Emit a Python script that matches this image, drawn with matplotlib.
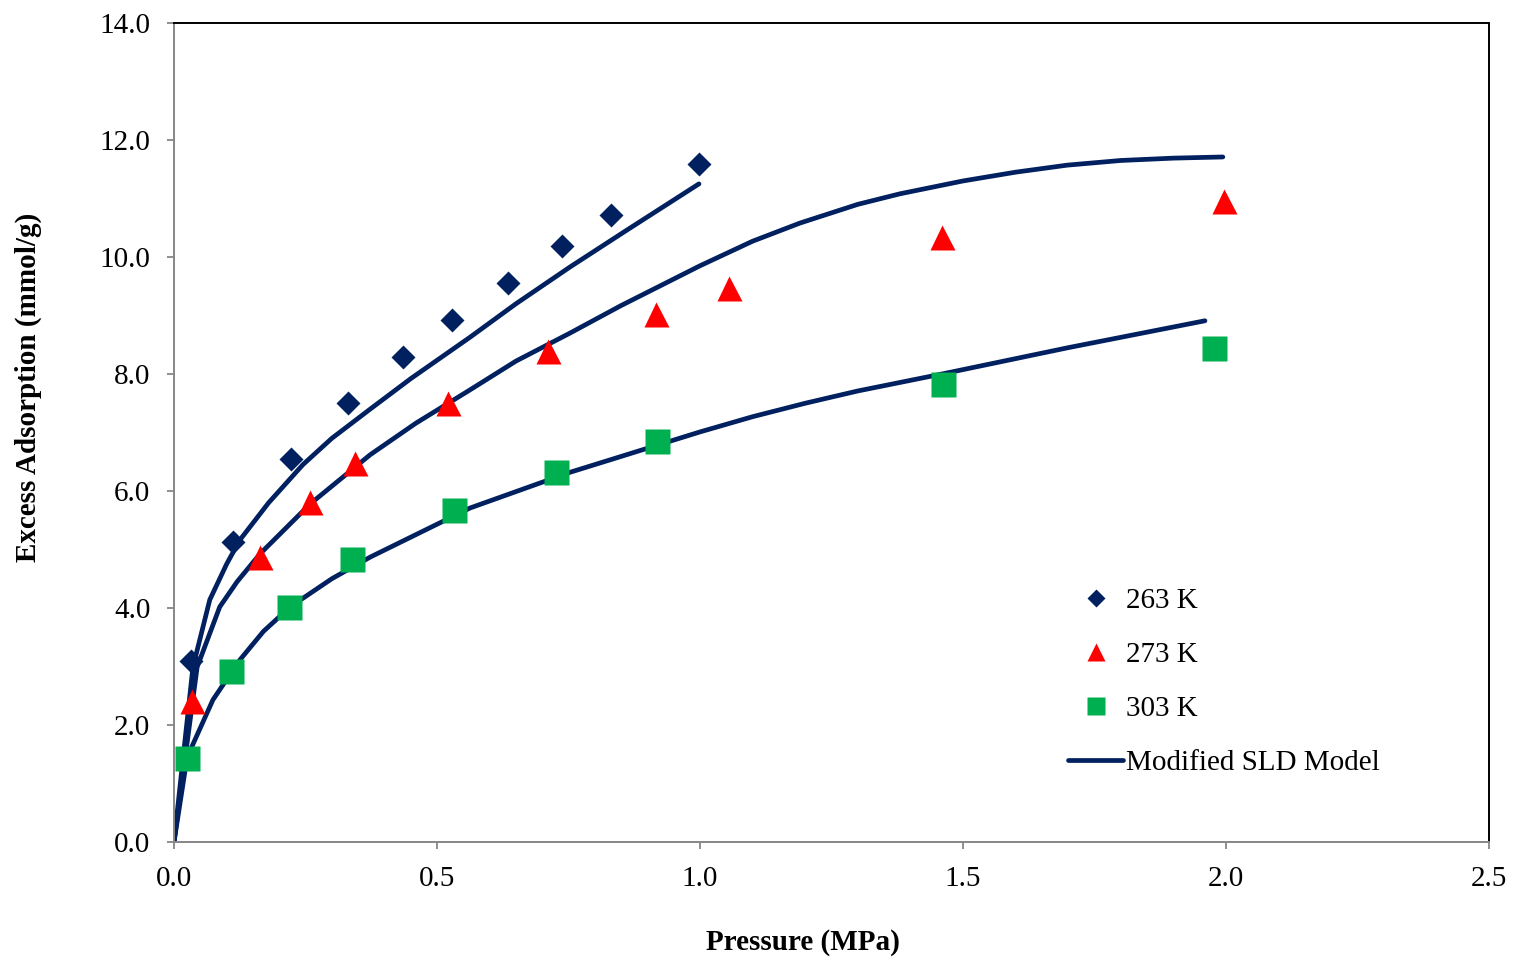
import matplotlib
matplotlib.use("Agg")
import matplotlib.pyplot as plt
from matplotlib.lines import Line2D

plt.rcParams['font.family'] = ['Liberation Serif', 'DejaVu Serif']

# measured excess adsorption (mmol/g) vs pressure (MPa)
p_263 = [0.032, 0.112, 0.222, 0.331, 0.435, 0.528, 0.635, 0.738, 0.831, 0.998]
n_263 = [3.09, 5.12, 6.54, 7.50, 8.29, 8.92, 9.56, 10.19, 10.72, 11.59]

p_273 = [0.034, 0.164, 0.259, 0.344, 0.521, 0.711, 0.916, 1.055, 1.460, 1.996]
n_273 = [2.41, 4.87, 5.81, 6.48, 7.50, 8.39, 9.03, 9.47, 10.34, 10.96]

p_303 = [0.025, 0.108, 0.219, 0.338, 0.532, 0.726, 0.918, 1.462, 1.977]
n_303 = [1.44, 2.92, 4.02, 4.84, 5.68, 6.32, 6.85, 7.83, 8.44]

# modified SLD model curves
mp_263 = [0.0, 0.036, 0.068, 0.1, 0.125, 0.18, 0.245, 0.3, 0.373, 0.45,
          0.563, 0.65, 0.753, 0.861, 0.998]
mn_263 = [0.0, 2.99, 4.14, 4.75, 5.16, 5.80, 6.45, 6.90, 7.40, 7.92,
          8.63, 9.20, 9.83, 10.46, 11.25]

mp_273 = [0.0, 0.044, 0.087, 0.12, 0.164, 0.259, 0.373, 0.46, 0.563, 0.65,
          0.753, 0.85, 1.0, 1.1, 1.19, 1.3, 1.38, 1.5, 1.6, 1.698, 1.8,
          1.9, 1.994]
mn_273 = [0.0, 2.99, 4.02, 4.45, 4.93, 5.78, 6.62, 7.16, 7.73, 8.22,
          8.70, 9.17, 9.85, 10.27, 10.58, 10.90, 11.08, 11.30, 11.45, 11.57, 11.65,
          11.69, 11.71]

mp_303 = [0.0, 0.025, 0.074, 0.125, 0.17, 0.221, 0.3, 0.373, 0.563, 0.753,
          1.0, 1.1, 1.2, 1.3, 1.46, 1.7, 1.96]
mn_303 = [0.0, 1.45, 2.43, 3.11, 3.60, 4.02, 4.50, 4.87, 5.71, 6.32,
          7.01, 7.27, 7.50, 7.71, 8.00, 8.45, 8.91]

navy = '#002060'
red = '#FF0000'
green = '#00B050'
grey = '#868686'
fs = 21

fig = plt.figure(figsize=(15.13, 9.59), dpi=100)
ax = fig.add_axes([174/1513, 1 - 842/959, (1489 - 174)/1513, (842 - 23)/959])

for mp, mn in [(mp_263, mn_263), (mp_273, mn_273), (mp_303, mn_303)]:
    ax.plot(mp, mn, color=navy, lw=3.4, solid_capstyle='round',
            solid_joinstyle='round', zorder=2)

ax.plot(p_263, n_263, 'D', color=navy, ms=12.2, mec='none', zorder=3)
ax.plot(p_273, n_273, '^', color=red, ms=18, mec='none', zorder=3)
ax.plot(p_303, n_303, 's', color=green, ms=18, mec='none', zorder=3)

ax.set_xlim(0, 2.5)
ax.set_ylim(0, 14)
ax.set_xticks([0, 0.5, 1.0, 1.5, 2.0, 2.5])
ax.set_yticks([0, 2, 4, 6, 8, 10, 12, 14])
ax.xaxis.set_major_formatter('{x:.1f}')
ax.yaxis.set_major_formatter('{x:.1f}')
ax.tick_params(direction='out', length=5, width=1.3, color=grey,
               labelsize=fs, pad=12)

ax.spines['left'].set_color(grey)
ax.spines['bottom'].set_color(grey)
ax.spines['top'].set_color('black')
ax.spines['right'].set_color('black')
for s in ax.spines.values():
    s.set_linewidth(1.4)

fig.text(803/1513, 1 - 942/959, 'Pressure (MPa)', ha='center', va='center',
         fontsize=fs, fontweight='bold')
fig.text(28/1513, 1 - 387/959, 'Excess Adsorption (mmol/g)', ha='center',
         va='center', rotation=90, fontsize=fs, fontweight='bold')

handles = [
    Line2D([], [], ls='none', marker='D', color=navy, ms=9.5, mec='none'),
    Line2D([], [], ls='none', marker='^', color=red, ms=13.5, mec='none'),
    Line2D([], [], ls='none', marker='s', color=green, ms=13, mec='none'),
    Line2D([], [], color=navy, lw=3.4, solid_capstyle='round'),
]
labels = ['263 K', '273 K', '303 K', 'Modified SLD Model']
fig.legend(handles, labels, loc='upper left', bbox_to_anchor=(1068/1513, 1 - 588/959),
           frameon=False, fontsize=fs, handlelength=1.9, handletextpad=0.1,
           labelspacing=0.94, borderpad=0, borderaxespad=0)

fig.savefig('out.png', dpi=100)
